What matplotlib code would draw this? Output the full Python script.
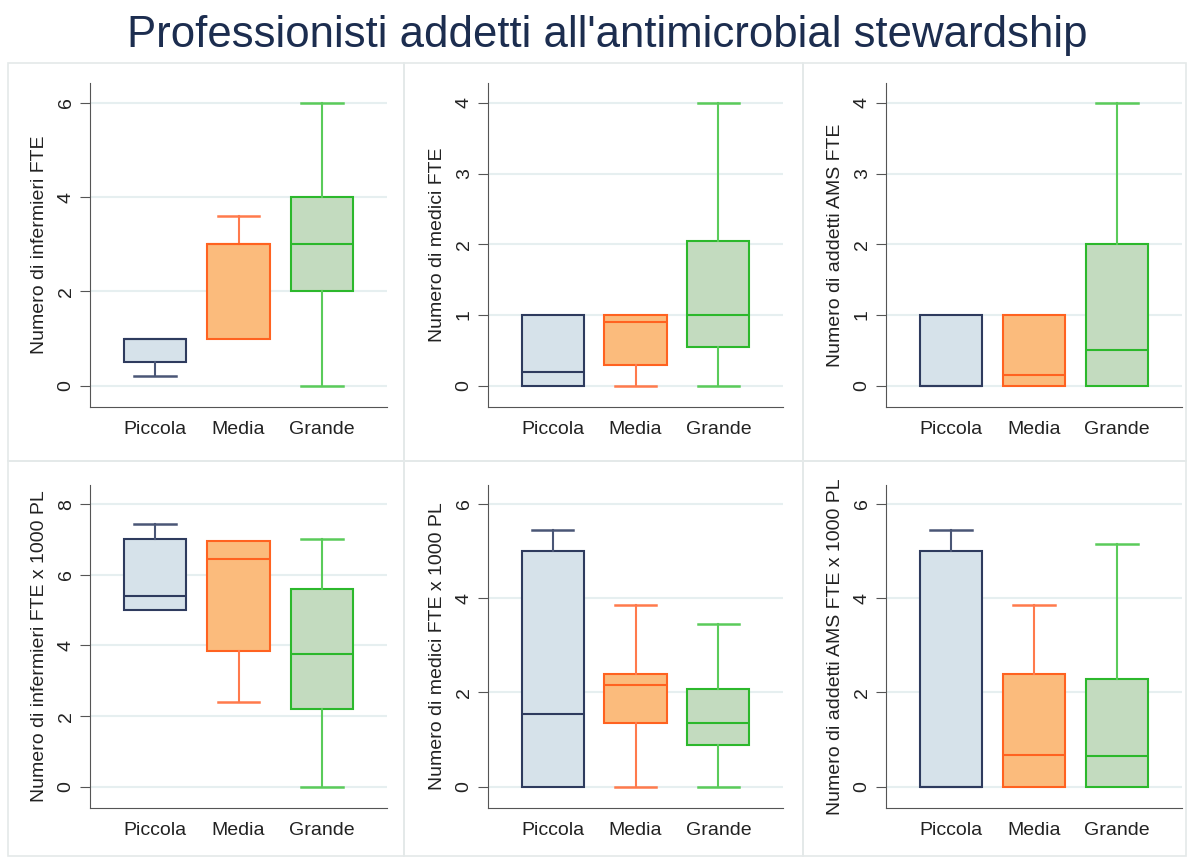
import matplotlib
matplotlib.use('Agg')
import matplotlib.pyplot as plt
from matplotlib.patches import Rectangle

plt.rcParams['font.family'] = ['Liberation Sans', 'DejaVu Sans']

W, H = 1188, 858

categories = ['Piccola', 'Media', 'Grande']

# five-number summaries per category: whislo, q1, med, q3, whishi
inf_fte = [[0.2, 0.5, 1.0, 1.0, 1.0], [1.0, 1.0, 3.0, 3.0, 3.6], [0.0, 2.0, 3.0, 4.0, 6.0]]
med_fte = [[0.0, 0.0, 0.2, 1.0, 1.0], [0.0, 0.3, 0.9, 1.0, 1.0], [0.0, 0.55, 1.0, 2.05, 4.0]]
ams_fte = [[0.0, 0.0, 0.0, 1.0, 1.0], [0.0, 0.0, 0.15, 1.0, 1.0], [0.0, 0.0, 0.5, 2.0, 4.0]]
inf_pl = [[5.0, 5.0, 5.4, 7.0, 7.45], [2.4, 3.85, 6.45, 6.95, 6.95], [0.0, 2.2, 3.75, 5.6, 7.0]]
med_pl = [[0.0, 0.0, 1.55, 5.0, 5.45], [0.0, 1.35, 2.15, 2.4, 3.85], [0.0, 0.88, 1.35, 2.08, 3.45]]
ams_pl = [[0.0, 0.0, 0.0, 5.0, 5.45], [0.0, 0.0, 0.68, 2.4, 3.85], [0.0, 0.0, 0.65, 2.28, 5.15]]

ylabels = ['Numero di infermieri FTE', 'Numero di medici FTE', 'Numero di addetti AMS FTE',
           'Numero di infermieri FTE x 1000 PL', 'Numero di medici FTE x 1000 PL',
           'Numero di addetti AMS FTE x 1000 PL']
yticks = [[0, 2, 4, 6], [0, 1, 2, 3, 4], [0, 1, 2, 3, 4],
          [0, 2, 4, 6, 8], [0, 2, 4, 6], [0, 2, 4, 6]]
ylims = [(-0.45, 6.42), (-0.3, 4.28), (-0.3, 4.28),
         (-0.6, 8.54), (-0.45, 6.4), (-0.45, 6.4)]
panels = [inf_fte, med_fte, ams_fte, inf_pl, med_pl, ams_pl]

edge_cols = ['#2e3b5e', '#ff6220', '#2cb82c']
whisk_cols = ['#4a5676', '#ff7a4c', '#5acb5a']
face_cols = ['#d6e2ea', '#fbbb7c', '#c3dbbf']


def px_rect(x0, y0, x1, y1):
    # pixel box (top-left origin) -> figure fraction rect
    return [x0 / W, 1 - y1 / H, (x1 - x0) / W, (y1 - y0) / H]


fig = plt.figure(figsize=(W / 100, H / 100), dpi=100)
fig.patch.set_facecolor('white')

# cornici dei pannelli
frames = [(8, 63, 404, 461), (404, 63, 803, 461), (803, 63, 1186, 461),
          (8, 461, 404, 856), (404, 461, 803, 856), (803, 461, 1186, 856)]
for fx0, fy0, fx1, fy1 in frames:
    r = px_rect(fx0, fy0, fx1, fy1)
    fig.patches.append(Rectangle((r[0], r[1]), r[2], r[3], transform=fig.transFigure,
                                 fill=False, edgecolor='#e4e9e9', linewidth=1.2))

fig.text(607 / W, 1 - 36 / H, "Professionisti addetti all'antimicrobial stewardship",
         ha='center', va='center', fontsize=31.5, color='#1c2d4f')

ax_boxes = [(90, 83, 387, 407), (488, 83, 783, 407), (886, 83, 1182, 407),
            (90, 485, 387, 808), (488, 485, 783, 808), (886, 485, 1182, 808)]

fs = 14
for i, data in enumerate(panels):
    ax = fig.add_axes(px_rect(*ax_boxes[i]))
    stats = []
    for cat, s in zip(categories, data):
        stats.append(dict(label=cat, whislo=s[0], q1=s[1], med=s[2], q3=s[3], whishi=s[4]))
    bp = ax.bxp(stats, positions=[1, 2, 3], widths=0.75, capwidths=0.5,
                showfliers=False, patch_artist=True)
    for j in range(3):
        s = data[j]
        bp['boxes'][j].set(facecolor=face_cols[j], edgecolor=edge_cols[j], linewidth=1.5)
        bp['medians'][j].set(color=edge_cols[j], linewidth=1.5)
        # whisker inferiore / superiore: niente cap se il baffo ha lunghezza zero
        lengths = [s[1] - s[0], s[4] - s[3]]
        for k, ln in zip((2 * j, 2 * j + 1), lengths):
            bp['whiskers'][k].set(color=whisk_cols[j], linewidth=1.5)
            bp['caps'][k].set(color=whisk_cols[j], linewidth=1.8)
            if ln <= 0:
                bp['whiskers'][k].set_visible(False)
                bp['caps'][k].set_visible(False)

    ax.set_xlim(0.22, 3.78)
    ax.set_ylim(*ylims[i])
    ax.set_yticks(yticks[i])
    ax.set_yticklabels([str(t) for t in yticks[i]], rotation=90, va='center')
    ax.yaxis.grid(True, color='#e6eff0', linewidth=1.5)
    ax.set_axisbelow(True)
    ax.spines['top'].set_visible(False)
    ax.spines['right'].set_visible(False)
    ax.spines['left'].set_color('#555555')
    ax.spines['bottom'].set_color('#555555')
    ax.tick_params(axis='y', length=7, color='#555555', labelsize=fs, labelcolor='#222222', pad=4)
    ax.tick_params(axis='x', length=0, labelsize=fs, labelcolor='#222222', pad=10)
    ax.set_ylabel(ylabels[i], fontsize=fs, color='#222222', labelpad=7)

fig.savefig('out.png', dpi=100, facecolor='white')
